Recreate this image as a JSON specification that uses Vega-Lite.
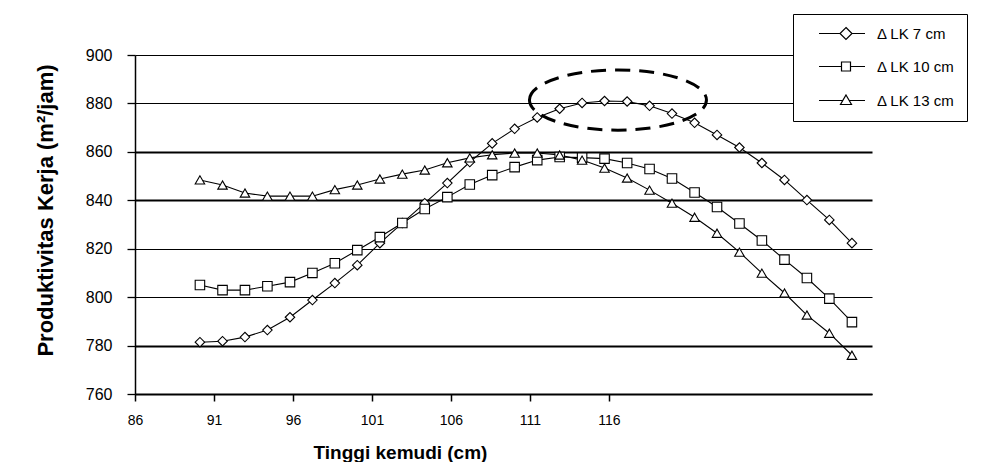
{
  "$schema": "https://vega.github.io/schema/vega-lite/v6.json",
  "width": 737,
  "height": 339,
  "autosize": {"type": "none"},
  "padding": {"left": 135, "top": 55, "right": 117, "bottom": 68},
  "background": "white",
  "config": {"view": {"stroke": null}, "font": "Liberation Sans"},
  "datasets": {
    "prod": [
      {"x": 90.11, "y": 781.4, "series": "Δ LK 7 cm"},
      {"x": 91.54, "y": 781.8, "series": "Δ LK 7 cm"},
      {"x": 92.96, "y": 783.5, "series": "Δ LK 7 cm"},
      {"x": 94.38, "y": 786.4, "series": "Δ LK 7 cm"},
      {"x": 95.81, "y": 791.7, "series": "Δ LK 7 cm"},
      {"x": 97.23, "y": 798.8, "series": "Δ LK 7 cm"},
      {"x": 98.65, "y": 805.8, "series": "Δ LK 7 cm"},
      {"x": 100.07, "y": 813.2, "series": "Δ LK 7 cm"},
      {"x": 101.5, "y": 822.3, "series": "Δ LK 7 cm"},
      {"x": 102.92, "y": 830.6, "series": "Δ LK 7 cm"},
      {"x": 104.34, "y": 838.8, "series": "Δ LK 7 cm"},
      {"x": 105.77, "y": 847.1, "series": "Δ LK 7 cm"},
      {"x": 107.19, "y": 855.8, "series": "Δ LK 7 cm"},
      {"x": 108.61, "y": 863.5, "series": "Δ LK 7 cm"},
      {"x": 110.03, "y": 869.5, "series": "Δ LK 7 cm"},
      {"x": 111.46, "y": 874.2, "series": "Δ LK 7 cm"},
      {"x": 112.88, "y": 877.8, "series": "Δ LK 7 cm"},
      {"x": 114.3, "y": 880.2, "series": "Δ LK 7 cm"},
      {"x": 115.72, "y": 881.0, "series": "Δ LK 7 cm"},
      {"x": 117.15, "y": 880.8, "series": "Δ LK 7 cm"},
      {"x": 118.57, "y": 879.0, "series": "Δ LK 7 cm"},
      {"x": 119.99, "y": 875.8, "series": "Δ LK 7 cm"},
      {"x": 121.42, "y": 872.0, "series": "Δ LK 7 cm"},
      {"x": 122.84, "y": 867.0, "series": "Δ LK 7 cm"},
      {"x": 124.26, "y": 861.8, "series": "Δ LK 7 cm"},
      {"x": 125.68, "y": 855.4, "series": "Δ LK 7 cm"},
      {"x": 127.11, "y": 848.4, "series": "Δ LK 7 cm"},
      {"x": 128.53, "y": 840.1, "series": "Δ LK 7 cm"},
      {"x": 129.95, "y": 831.9, "series": "Δ LK 7 cm"},
      {"x": 131.38, "y": 822.3, "series": "Δ LK 7 cm"},
      {"x": 90.11, "y": 805.0, "series": "Δ LK 10 cm"},
      {"x": 91.54, "y": 802.9, "series": "Δ LK 10 cm"},
      {"x": 92.96, "y": 802.9, "series": "Δ LK 10 cm"},
      {"x": 94.38, "y": 804.5, "series": "Δ LK 10 cm"},
      {"x": 95.81, "y": 806.2, "series": "Δ LK 10 cm"},
      {"x": 97.23, "y": 810.0, "series": "Δ LK 10 cm"},
      {"x": 98.65, "y": 814.0, "series": "Δ LK 10 cm"},
      {"x": 100.07, "y": 819.4, "series": "Δ LK 10 cm"},
      {"x": 101.5, "y": 824.8, "series": "Δ LK 10 cm"},
      {"x": 102.92, "y": 830.6, "series": "Δ LK 10 cm"},
      {"x": 104.34, "y": 836.4, "series": "Δ LK 10 cm"},
      {"x": 105.77, "y": 841.3, "series": "Δ LK 10 cm"},
      {"x": 107.19, "y": 846.5, "series": "Δ LK 10 cm"},
      {"x": 108.61, "y": 850.4, "series": "Δ LK 10 cm"},
      {"x": 110.03, "y": 853.7, "series": "Δ LK 10 cm"},
      {"x": 111.46, "y": 856.6, "series": "Δ LK 10 cm"},
      {"x": 112.88, "y": 857.9, "series": "Δ LK 10 cm"},
      {"x": 114.3, "y": 857.6, "series": "Δ LK 10 cm"},
      {"x": 115.72, "y": 857.2, "series": "Δ LK 10 cm"},
      {"x": 117.15, "y": 855.4, "series": "Δ LK 10 cm"},
      {"x": 118.57, "y": 852.9, "series": "Δ LK 10 cm"},
      {"x": 119.99, "y": 849.0, "series": "Δ LK 10 cm"},
      {"x": 121.42, "y": 843.2, "series": "Δ LK 10 cm"},
      {"x": 122.84, "y": 837.2, "series": "Δ LK 10 cm"},
      {"x": 124.26, "y": 830.4, "series": "Δ LK 10 cm"},
      {"x": 125.68, "y": 823.4, "series": "Δ LK 10 cm"},
      {"x": 127.11, "y": 815.5, "series": "Δ LK 10 cm"},
      {"x": 128.53, "y": 807.9, "series": "Δ LK 10 cm"},
      {"x": 129.95, "y": 799.4, "series": "Δ LK 10 cm"},
      {"x": 131.38, "y": 789.7, "series": "Δ LK 10 cm"},
      {"x": 90.11, "y": 848.4, "series": "Δ LK 13 cm"},
      {"x": 91.54, "y": 846.3, "series": "Δ LK 13 cm"},
      {"x": 92.96, "y": 843.0, "series": "Δ LK 13 cm"},
      {"x": 94.38, "y": 841.7, "series": "Δ LK 13 cm"},
      {"x": 95.81, "y": 841.7, "series": "Δ LK 13 cm"},
      {"x": 97.23, "y": 841.7, "series": "Δ LK 13 cm"},
      {"x": 98.65, "y": 844.4, "series": "Δ LK 13 cm"},
      {"x": 100.07, "y": 846.3, "series": "Δ LK 13 cm"},
      {"x": 101.5, "y": 848.8, "series": "Δ LK 13 cm"},
      {"x": 102.92, "y": 850.8, "series": "Δ LK 13 cm"},
      {"x": 104.34, "y": 852.5, "series": "Δ LK 13 cm"},
      {"x": 105.77, "y": 855.5, "series": "Δ LK 13 cm"},
      {"x": 107.19, "y": 857.5, "series": "Δ LK 13 cm"},
      {"x": 108.61, "y": 858.8, "series": "Δ LK 13 cm"},
      {"x": 110.03, "y": 859.5, "series": "Δ LK 13 cm"},
      {"x": 111.46, "y": 859.5, "series": "Δ LK 13 cm"},
      {"x": 112.88, "y": 858.7, "series": "Δ LK 13 cm"},
      {"x": 114.3, "y": 856.6, "series": "Δ LK 13 cm"},
      {"x": 115.72, "y": 853.3, "series": "Δ LK 13 cm"},
      {"x": 117.15, "y": 849.2, "series": "Δ LK 13 cm"},
      {"x": 118.57, "y": 844.2, "series": "Δ LK 13 cm"},
      {"x": 119.99, "y": 838.8, "series": "Δ LK 13 cm"},
      {"x": 121.42, "y": 833.0, "series": "Δ LK 13 cm"},
      {"x": 122.84, "y": 826.4, "series": "Δ LK 13 cm"},
      {"x": 124.26, "y": 818.6, "series": "Δ LK 13 cm"},
      {"x": 125.68, "y": 809.9, "series": "Δ LK 13 cm"},
      {"x": 127.11, "y": 801.7, "series": "Δ LK 13 cm"},
      {"x": 128.53, "y": 792.6, "series": "Δ LK 13 cm"},
      {"x": 129.95, "y": 785.1, "series": "Δ LK 13 cm"},
      {"x": 131.38, "y": 776.0, "series": "Δ LK 13 cm"}
    ],
    "anno": [{"x": 116.57, "y": 881.4}]
  },
  "encoding": {
    "x": {
      "field": "x",
      "type": "quantitative",
      "scale": {"domain": [86, 132.65], "nice": false, "zero": false},
      "axis": {
        "title": "Tinggi kemudi (cm)",
        "values": [86, 91, 96, 101, 106, 111, 116],
        "format": "d",
        "grid": false,
        "labelFlush": false,
        "domainColor": "black",
        "domainWidth": 1.8,
        "tickColor": "black",
        "tickWidth": 1.5,
        "tickSize": 7,
        "labelPadding": 12,
        "labelFont": "Liberation Sans",
        "labelFontSize": 14,
        "labelColor": "black",
        "titleFont": "Liberation Sans",
        "titleFontWeight": "bold",
        "titleFontSize": 19,
        "titleColor": "black",
        "titleX": 265,
        "titleY": 58,
        "titleBaseline": "middle"
      }
    },
    "y": {
      "field": "y",
      "type": "quantitative",
      "scale": {"domain": [760, 900], "nice": false, "zero": false},
      "axis": {
        "title": "Produktivitas Kerja (m²/jam)",
        "values": [760, 780, 800, 820, 840, 860, 880, 900],
        "grid": true,
        "gridColor": "black",
        "gridOpacity": 1,
        "gridWidth": {"condition": {"test": "datum.value == 780 || datum.value == 840 || datum.value == 860", "value": 2.2}, "value": 1.2},
        "domainColor": "black",
        "domainWidth": 1.5,
        "tickColor": "black",
        "tickWidth": 1.3,
        "tickSize": 8,
        "labelPadding": 15,
        "labelFont": "Liberation Sans",
        "labelFontSize": 16,
        "labelColor": "black",
        "titleFont": "Liberation Sans",
        "titleFontWeight": "bold",
        "titleFontSize": 22,
        "titleColor": "black",
        "titleAngle": -90,
        "titleX": -90,
        "titleY": 155,
        "titleBaseline": "middle"
      }
    }
  },
  "layer": [
    {
      "data": {"name": "prod"},
      "mark": {"type": "line", "color": "black", "strokeWidth": 1.1},
      "encoding": {"detail": {"field": "series", "type": "nominal"}}
    },
    {
      "data": {"name": "prod"},
      "mark": {"type": "point", "filled": true, "fill": "white", "stroke": "black", "strokeWidth": 1.1, "size": 90, "opacity": 1},
      "encoding": {
        "shape": {
          "field": "series",
          "type": "nominal",
          "scale": {"domain": ["Δ LK 7 cm", "Δ LK 10 cm", "Δ LK 13 cm"], "range": ["diamond", "square", "triangle-up"]},
          "legend": null
        }
      }
    },
    {
      "data": {"name": "prod"},
      "transform": [{"filter": "false"}],
      "mark": {"type": "point", "filled": false, "color": "black", "strokeWidth": 1.2, "size": 100, "opacity": 1},
      "encoding": {
        "shape": {
          "field": "series",
          "type": "nominal",
          "scale": {
            "domain": ["Δ LK 7 cm", "Δ LK 10 cm", "Δ LK 13 cm"],
            "range": [
              "M 1.3 0 L 5.5 0 M 7.9 0 L 10.5 0 M 6.7 -1.2 L 7.9 0 L 6.7 1.2 L 5.5 0 Z",
              "M 1.3 0 L 5.8 0 M 7.6 0 L 10.5 0 M 5.8 -0.9 L 7.6 -0.9 L 7.6 0.9 L 5.8 0.9 Z",
              "M 1.3 0 L 6.06 0 M 7.34 0 L 10.5 0 M 6.7 -1.1 L 7.8 0.8 L 5.6 0.8 Z"
            ]
          },
          "legend": {
            "title": null,
            "orient": "none",
            "legendX": 658,
            "legendY": -41,
            "fillColor": "white",
            "strokeColor": "black",
            "padding": 12,
            "rowPadding": 17,
            "symbolSize": 100,
            "symbolOpacity": 1,
            "symbolStrokeColor": "black",
            "symbolStrokeWidth": 1.2,
            "symbolOffset": 0,
            "labelOffset": 57,
            "labelFont": "Liberation Sans",
            "labelFontSize": 15,
            "labelColor": "black"
          }
        }
      }
    },
    {
      "data": {"name": "anno"},
      "mark": {
        "type": "point",
        "shape": "M -1 0 C -1 -0.188 -0.552 -0.34 0 -0.34 C 0.552 -0.34 1 -0.188 1 0 C 1 0.188 0.552 0.34 0 0.34 C -0.552 0.34 -1 0.188 -1 0 Z",
        "size": 31329,
        "filled": false,
        "stroke": "black",
        "strokeWidth": 3,
        "strokeDash": [15, 9],
        "opacity": 1
      },
      "encoding": {}
    }
  ],
  "resolve": {"scale": {"shape": "independent"}}
}
